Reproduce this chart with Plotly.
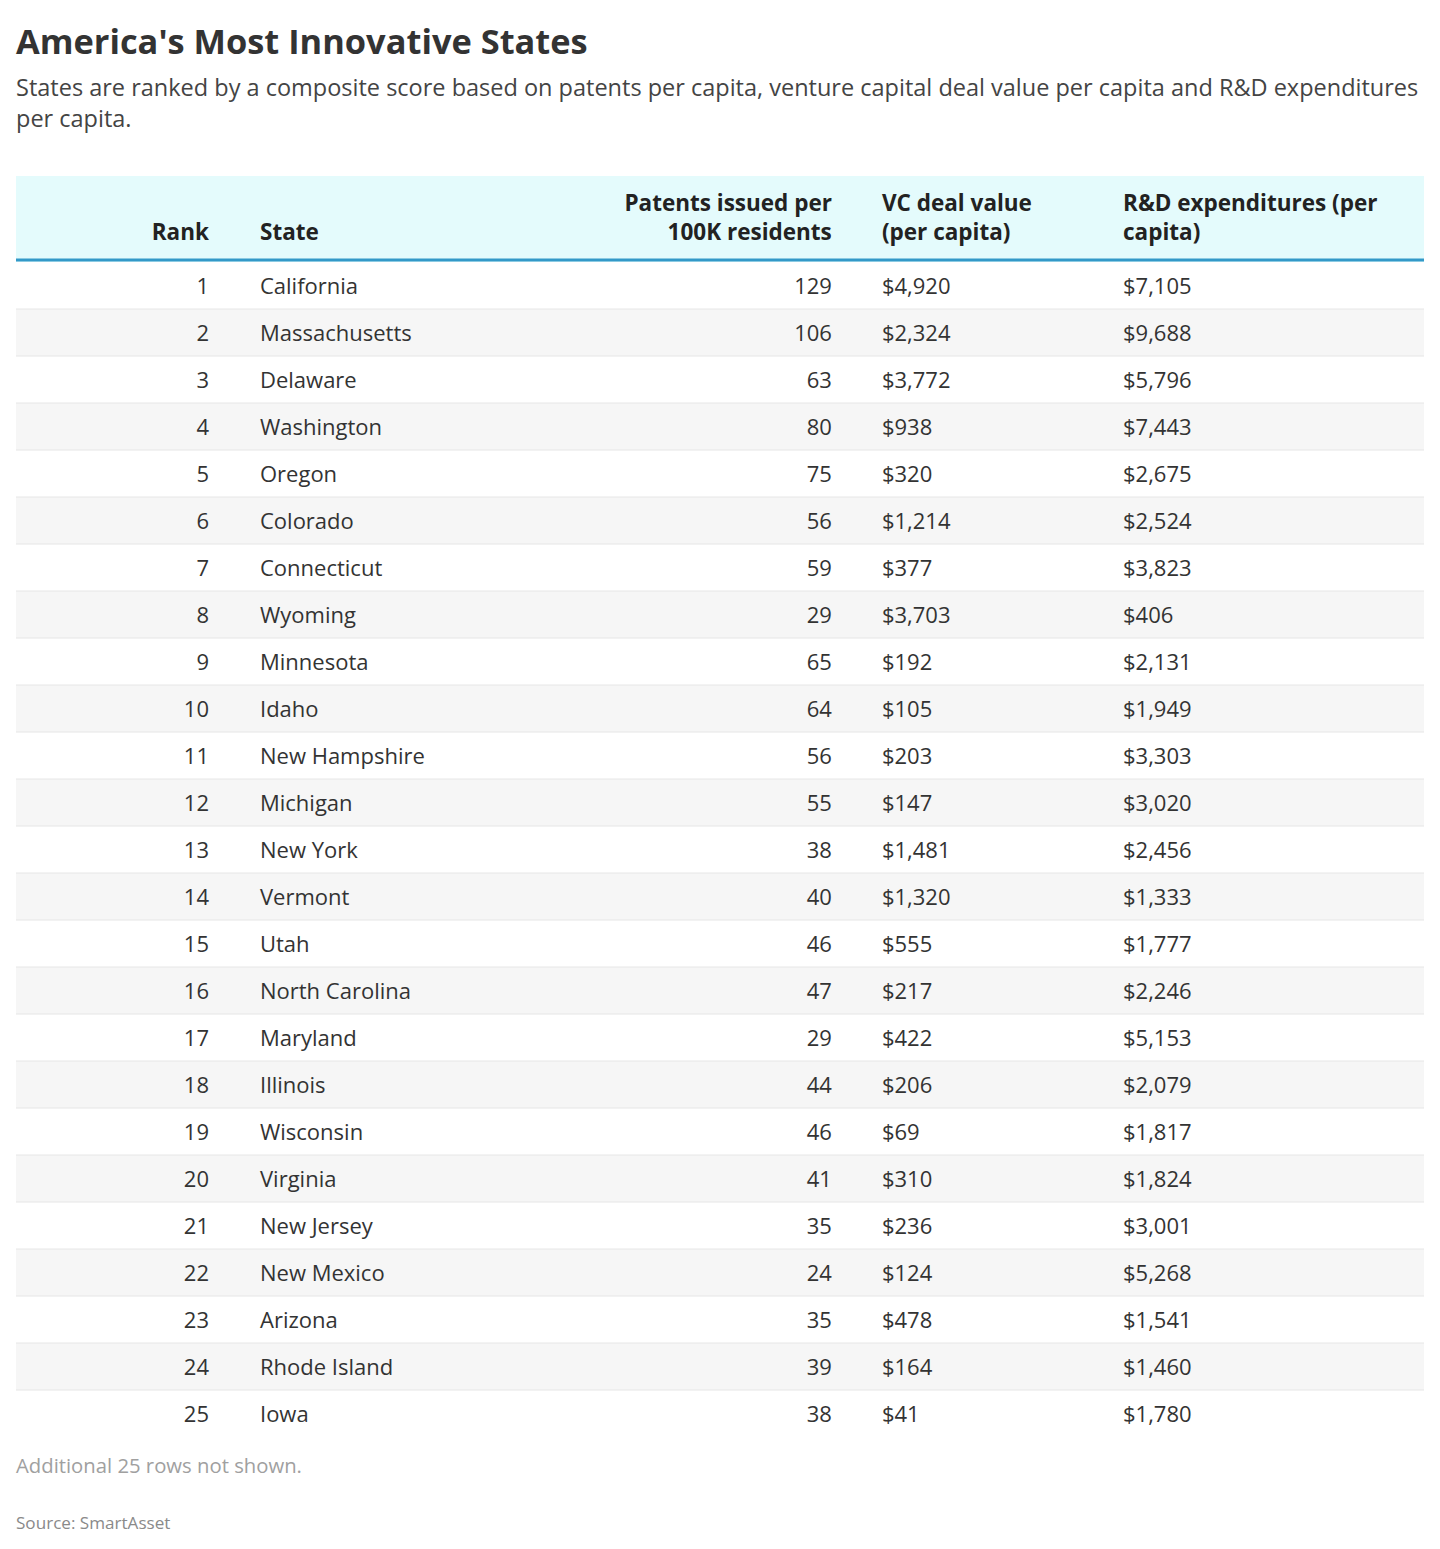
import plotly.graph_objects as go

ranks = list(range(1, 26))
states = ["California", "Massachusetts", "Delaware", "Washington", "Oregon", "Colorado",
          "Connecticut", "Wyoming", "Minnesota", "Idaho", "New Hampshire", "Michigan",
          "New York", "Vermont", "Utah", "North Carolina", "Maryland", "Illinois",
          "Wisconsin", "Virginia", "New Jersey", "New Mexico", "Arizona", "Rhode Island", "Iowa"]
patents = [129, 106, 63, 80, 75, 56, 59, 29, 65, 64, 56, 55, 38, 40, 46, 47, 29, 44, 46, 41,
           35, 24, 35, 39, 38]
vc_value = [4920, 2324, 3772, 938, 320, 1214, 377, 3703, 192, 105, 203, 147, 1481, 1320, 555,
            217, 422, 206, 69, 310, 236, 124, 478, 164, 41]
rd_spend = [7105, 9688, 5796, 7443, 2675, 2524, 3823, 406, 2131, 1949, 3303, 3020, 2456, 1333,
            1777, 2246, 5153, 2079, 1817, 1824, 3001, 5268, 1541, 1460, 1780]

# plotly keeps the lines of a wrapped cell flush left and drops a leading <br>,
# so non-breaking spaces are used to place the header lines
NB = "\u00a0"
headers = [NB + "<br>Rank", "", NB + "<br>State",
           "Patents issued per<br>" + NB * 7 + "\u200a100K residents", "",
           "VC deal value<br>(per capita)", "", "R&D expenditures (per<br>capita)"]

# page has an 8px body margin, so the figure is drawn 8px in from the window edge
OFF = 8
W, H = 1440 - 2 * OFF, 1549 - 2 * OFF
FONT = "Open Sans"


def px(x):
    return (x - OFF) / W


def py(y):
    return 1 - (y - OFF) / H


LEFT, RIGHT = 16, 1424
HEAD_TOP, ROW_TOP = 176, 262
HEAD_H, ROW_H = 86, 47
n = len(states)

blank = [""] * n
cols = [
    [str(r) for r in ranks],
    blank,
    states,
    [str(p) for p in patents],
    blank,
    [f"${v:,}" for v in vc_value],
    blank,
    [f"${v:,}" for v in rd_spend],
]
widths = [201, 35, 294, 294, 34, 241, 0.1, 309]
aligns = ["right", "left", "left", "right", "left", "left", "left", "left"]
clear = "rgba(0,0,0,0)"

# cell text sits at the top of plotly cells; the table is nudged down so it looks centred
t_top = HEAD_TOP + 3
t_head = ROW_TOP + 7 - t_top
t_bot = ROW_TOP + 7 + n * ROW_H + 2

fig = go.Figure(go.Table(
    columnwidth=widths,
    header=dict(
        values=headers,
        align=aligns,
        fill_color=clear,
        line=dict(color=clear, width=0),
        font=dict(family=FONT, size=22.5, color="#222222", weight="bold"),
        height=t_head,
    ),
    cells=dict(
        values=cols,
        align=aligns,
        fill_color=clear,
        line=dict(color=clear, width=0),
        font=dict(family=FONT, size=22, color="#333333"),
        height=ROW_H,
    ),
    domain=dict(x=[px(LEFT), px(RIGHT)], y=[py(t_bot), py(t_top)]),
))

# header band, zebra rows, separators, header rule
fig.add_shape(type="rect", xref="paper", yref="paper", x0=px(LEFT), x1=px(RIGHT),
              y0=py(ROW_TOP), y1=py(HEAD_TOP), fillcolor="#e4fbfc", line_width=0, layer="below")
for i in range(n):
    y0 = ROW_TOP + i * ROW_H
    if i % 2 == 1:
        fig.add_shape(type="rect", xref="paper", yref="paper", x0=px(LEFT), x1=px(RIGHT),
                      y0=py(y0 + ROW_H), y1=py(y0), fillcolor="#f6f6f6", line_width=0,
                      layer="below")
    if i > 0:
        fig.add_shape(type="line", xref="paper", yref="paper", x0=px(LEFT), x1=px(RIGHT),
                      y0=py(y0), y1=py(y0), line=dict(color="#e6e6e6", width=1), layer="below")
fig.add_shape(type="line", xref="paper", yref="paper", x0=px(LEFT), x1=px(RIGHT),
              y0=py(ROW_TOP - 2), y1=py(ROW_TOP - 2),
              line=dict(color="#3399c8", width=3), layer="above")

fig.add_annotation(text="<b>America's Most Innovative States</b>", x=px(LEFT - 2), y=py(40),
                   xref="paper", yref="paper", xanchor="left", yanchor="middle", showarrow=False,
                   font=dict(family=FONT, size=34.4, color="#333333"))
fig.add_annotation(text="States are ranked by a composite score based on patents per capita, "
                        "venture capital deal value per capita and R&D expenditures<br>per capita.",
                   x=px(LEFT - 2), y=py(103), xref="paper", yref="paper", xanchor="left",
                   yanchor="middle", align="left", showarrow=False,
                   font=dict(family=FONT, size=23.5, color="#444444"))
fig.add_annotation(text="Additional 25 rows not shown.", x=px(LEFT - 2), y=py(1465),
                   xref="paper", yref="paper", xanchor="left", yanchor="middle", showarrow=False,
                   font=dict(family=FONT, size=20.3, color="#a0a0a0"))
fig.add_annotation(text="Source: SmartAsset", x=px(LEFT - 2), y=py(1522),
                   xref="paper", yref="paper", xanchor="left", yanchor="middle", showarrow=False,
                   font=dict(family=FONT, size=17.1, color="#8a8a8a"))

fig.update_layout(width=W, height=H, margin=dict(l=0, r=0, t=0, b=0),
                  paper_bgcolor="white", plot_bgcolor="white")
fig.write_html("out.html")
